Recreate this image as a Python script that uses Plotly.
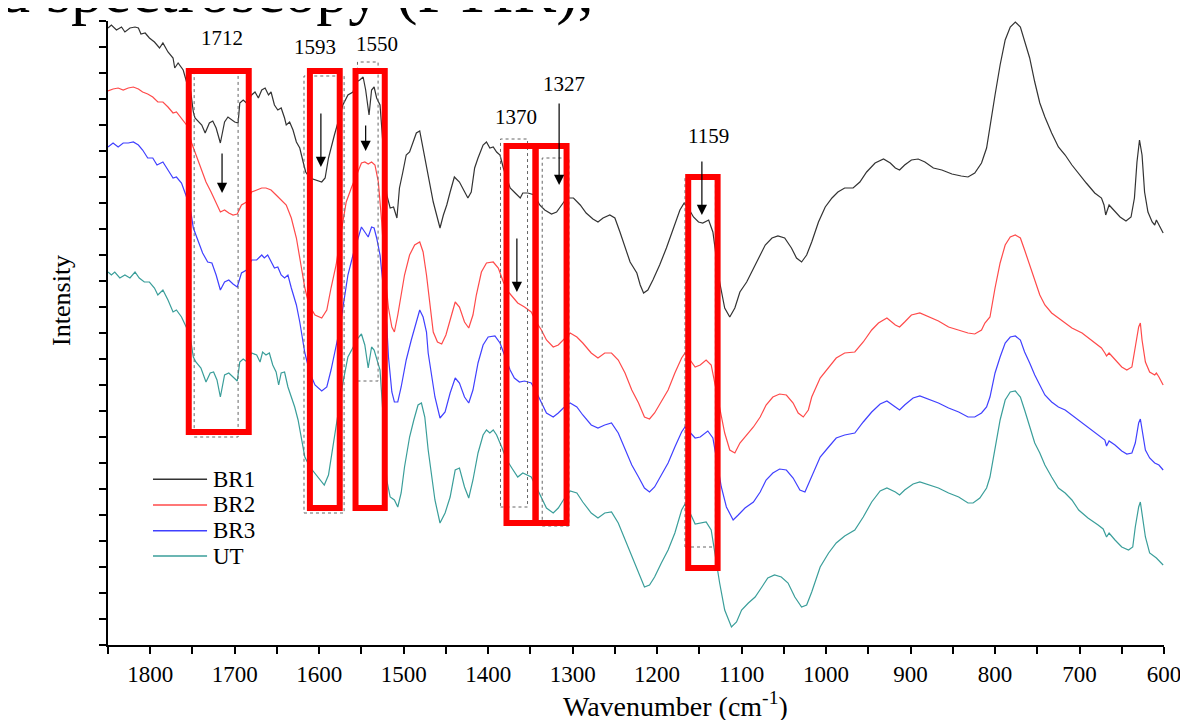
import plotly.graph_objects as go

# ---------------- data (wavenumber in cm-1, intensity in arbitrary units) ----------------
wn_br1 = [1850,1846,1840,1834,1830,1824,1818,1814,1811,1806,1801,1795,1789,1785,1779,1773,1771,1767,1761,1757,
          1752,1749,1747,1739,1735,1730,1726,1722,1717,1712,1708,1704,1700,1696,1694,1690,1686,1680,1676,1672,
          1668,1664,1660,1657,1653,1649,1645,1641,1639,1635,1631,1627,1623,1619,1616,1611,1605,1597,1593,1589,
          1582,1578,1572,1566,1560,1556,1552,1548,1545,1541,1538,1535,1532,1528,1524,1520,1516,1512,1508,1505,
          1501,1497,1493,1489,1485,1481,1477,1473,1469,1465,1461,1457,1453,1449,1445,1440,1434,1428,1424,1420,
          1416,1412,1406,1402,1398,1394,1390,1386,1382,1378,1374,1368,1362,1359,1353,1345,1339,1333,1325,1319,
          1313,1307,1299,1291,1284,1276,1270,1264,1256,1250,1244,1238,1232,1224,1220,1216,1211,1205,1197,1189,
          1181,1173,1168,1163,1157,1151,1146,1139,1134,1130,1126,1120,1114,1108,1102,1094,1086,1078,1072,1064,
          1057,1049,1041,1035,1029,1023,1017,1009,1001,993,986,978,968,960,952,942,932,924,918,913,
          907,899,891,883,873,863,851,840,832,824,816,810,806,800,794,788,782,776,770,765,
          759,753,747,741,733,725,717,709,701,692,682,674,671,669,665,660,652,645,639,635,
          632,629,626,623,619,614,611,609,606,601]
int_br1 = [617,620,615,618,613,617,618,617,611,612,607,603,597,602,593,587,577,582,575,563,
           553,533,527,520,512,522,524,517,502,523,528,525,523,522,542,545,542,550,553,547,
           555,557,550,553,540,535,537,527,520,523,515,503,497,483,473,467,465,463,467,487,
           510,523,540,550,553,563,565,568,555,530,555,558,547,540,497,450,437,438,427,457,
           473,490,493,503,512,514,497,477,460,443,430,417,430,440,453,468,463,453,447,453,
           477,487,500,503,497,498,493,490,477,467,457,452,447,452,452,450,440,435,431,433,
           440,447,447,440,432,426,423,427,430,427,413,397,383,372,360,352,355,365,380,397,
           417,435,442,437,428,423,422,425,413,390,363,337,328,337,353,363,377,390,400,407,
           409,407,397,387,383,390,403,423,438,447,453,457,457,463,473,482,486,482,477,475,
           480,485,486,483,477,475,471,469,468,472,482,497,520,550,580,605,618,623,618,605,
           587,563,542,528,512,498,490,480,471,462,452,447,440,430,440,435,428,424,428,447,
           483,505,490,453,433,423,420,425,420,412]

wn_br2 = [1850,1844,1838,1832,1826,1820,1814,1809,1803,1797,1791,1785,1779,1773,1769,1763,1757,1751,1746,1740,
          1734,1728,1722,1717,1712,1707,1702,1697,1692,1686,1680,1674,1668,1663,1657,1651,1645,1639,1633,1627,
          1621,1617,1612,1605,1597,1591,1586,1580,1574,1568,1562,1556,1550,1546,1542,1538,1534,1530,1526,1522,
          1518,1514,1511,1507,1499,1493,1487,1481,1477,1473,1469,1465,1460,1455,1450,1445,1439,1434,1428,1423,
          1418,1414,1408,1402,1394,1388,1382,1376,1370,1365,1357,1349,1343,1337,1331,1323,1317,1311,1303,1295,
          1288,1278,1270,1262,1254,1246,1238,1230,1222,1215,1209,1203,1195,1187,1179,1171,1167,1161,1155,1149,
          1142,1136,1132,1126,1120,1114,1108,1102,1094,1086,1078,1071,1063,1055,1047,1039,1033,1027,1021,1017,
          1007,997,988,978,966,956,946,938,928,918,913,907,899,889,879,867,855,843,832,824,
          816,812,806,800,794,788,782,776,770,765,759,753,747,741,733,725,717,709,697,686,
          674,670,668,665,658,650,644,638,634,630,628,626,622,617,611,609,606,601]
int_br2 = [554,556,557,555,557,558,556,553,551,548,543,543,538,532,533,527,520,502,490,477,
           463,453,442,433,435,432,430,431,440,443,453,455,457,457,455,450,445,440,427,407,
           377,357,340,330,327,335,357,380,413,443,457,470,482,483,481,483,480,463,423,370,
           337,318,313,330,370,390,400,403,393,370,340,313,303,301,310,325,343,338,323,317,
           330,350,373,382,383,377,363,353,347,342,338,333,323,315,305,298,300,305,312,308,
           302,292,287,292,292,285,272,255,242,228,226,232,243,255,272,287,292,285,278,280,
           285,280,262,235,212,195,192,202,210,218,228,240,248,251,250,242,232,228,235,248,
           267,277,287,292,293,303,315,322,327,320,318,323,330,332,328,324,318,315,312,311,
           315,322,328,357,382,400,408,410,407,395,380,363,350,340,332,327,322,317,312,305,
           297,292,289,292,285,278,275,278,298,318,322,305,283,273,270,272,268,260]

wn_br3 = [1850,1844,1838,1832,1826,1820,1814,1809,1803,1797,1792,1785,1779,1773,1769,1763,1757,1752,1749,1743,
          1738,1732,1727,1722,1717,1712,1707,1702,1697,1692,1686,1680,1674,1668,1665,1661,1657,1653,1649,1645,
          1641,1637,1633,1627,1623,1621,1617,1611,1605,1597,1591,1586,1580,1576,1572,1566,1560,1554,1550,1546,
          1542,1538,1535,1532,1528,1524,1520,1518,1514,1511,1507,1503,1497,1491,1485,1481,1477,1473,1471,1467,
          1463,1457,1451,1445,1439,1434,1428,1423,1418,1412,1406,1400,1392,1386,1380,1374,1369,1363,1357,1349,
          1343,1337,1331,1323,1317,1311,1303,1295,1288,1278,1270,1262,1254,1246,1238,1230,1222,1215,1209,1203,
          1195,1187,1179,1171,1167,1161,1155,1149,1140,1134,1130,1124,1118,1110,1104,1096,1086,1078,1071,1063,
          1055,1047,1039,1031,1025,1017,1007,997,988,978,966,956,946,936,928,918,913,907,897,889,
          879,867,855,843,832,824,816,810,806,800,794,788,782,776,770,765,759,753,747,741,
          733,725,717,709,697,686,676,670,668,665,658,650,644,638,634,630,628,626,622,617,
          611,606,601]
int_br3 = [498,502,498,502,502,503,500,495,487,487,480,483,475,467,468,462,448,433,417,403,
           392,383,382,370,355,363,365,361,358,372,375,385,385,390,387,390,383,377,378,370,
           367,370,357,340,323,312,292,272,260,254,258,275,298,315,337,370,390,408,418,413,
           408,418,417,407,390,357,320,288,253,243,243,258,285,305,322,335,328,313,292,268,
           248,227,233,252,267,262,248,242,255,282,300,308,309,302,288,275,267,263,264,262,
           253,242,232,228,232,237,242,238,230,220,217,220,222,212,195,180,168,157,153,158,
           170,182,198,213,218,212,207,208,214,207,188,158,138,125,130,137,143,153,165,172,
           176,175,167,155,153,168,188,198,207,210,212,223,233,241,244,238,235,240,247,249,
           246,242,237,233,228,228,232,238,248,272,288,302,308,309,305,293,282,270,260,250,
           243,238,235,230,222,215,209,205,199,204,200,194,191,192,202,222,226,215,195,187,
           182,180,175]

wn_ut = [1850,1846,1842,1836,1830,1824,1818,1813,1807,1801,1795,1791,1785,1779,1773,1769,1763,1757,1753,1749,
         1746,1740,1734,1729,1725,1721,1717,1712,1707,1702,1697,1694,1690,1685,1680,1674,1670,1667,1663,1659,
         1655,1651,1648,1645,1641,1637,1633,1629,1625,1621,1617,1611,1605,1599,1594,1589,1584,1578,1572,1566,
         1560,1554,1550,1546,1542,1538,1535,1532,1528,1524,1520,1516,1511,1507,1503,1499,1493,1488,1483,1479,
         1475,1471,1467,1463,1457,1451,1445,1439,1434,1428,1423,1418,1412,1406,1402,1398,1394,1390,1384,1378,
         1372,1365,1359,1349,1343,1337,1331,1323,1317,1311,1303,1295,1288,1278,1270,1262,1254,1246,1238,1230,
         1222,1215,1209,1203,1195,1187,1179,1171,1167,1161,1155,1149,1142,1136,1132,1126,1120,1112,1106,1100,
         1092,1084,1076,1069,1061,1053,1045,1037,1029,1023,1017,1007,997,988,978,966,956,946,936,928,
         918,913,907,897,889,879,867,855,843,832,826,818,810,806,800,794,788,782,776,770,
         765,759,753,747,741,733,725,717,709,701,690,678,672,668,665,658,650,642,637,634,
         630,628,626,622,617,609,601]
int_ut = [373,370,373,367,370,367,373,367,363,363,357,350,355,345,333,335,328,318,310,288,
          283,277,263,272,273,265,248,270,272,268,264,283,286,283,292,290,283,293,290,292,
          280,273,260,272,273,258,248,238,225,208,188,178,172,166,160,170,198,232,262,288,
          298,307,311,300,277,298,295,287,275,225,165,148,145,138,152,178,208,225,240,242,
          228,195,172,145,122,132,148,175,177,158,147,165,192,210,215,212,215,210,198,185,
          177,168,172,168,158,148,137,132,137,145,154,152,143,132,127,132,133,122,105,88,
          72,58,60,68,82,95,112,135,141,132,121,122,123,115,92,62,35,18,23,35,
          42,48,58,67,70,68,62,48,38,40,53,78,92,102,109,115,128,143,154,157,
          153,150,155,161,163,160,157,152,148,142,142,147,157,168,198,225,245,253,254,248,
          235,218,202,192,180,168,157,152,145,135,127,120,116,108,112,105,98,95,98,118,
          138,143,132,108,92,87,80]

series_names = ["BR1", "BR2", "BR3", "UT"]
series_colors = ["#333333", "#ff4a4a", "#4040ff", "#3a9e9a"]

# x-axis tick labels
x_ticks = [1800, 1700, 1600, 1500, 1400, 1300, 1200, 1100, 1000, 900, 800, 700, 600]
x_minor = [1850, 1750, 1650, 1550, 1450, 1350, 1250, 1150, 1050, 950, 850, 750, 650]

# marked bands: label, label position, arrow (tail -> tip)
band_labels = ["1712", "1593", "1550", "1370", "1327", "1159"]
label_wn = [1715, 1605, 1532, 1367, 1310, 1139]
label_int = [607, 598, 601, 528, 561, 509]
arrow_wn = [1715, 1598, 1545, 1366, 1316, 1147]
arrow_tail = [493, 533, 521, 408, 543, 485]
arrow_tip = [452, 478, 494, 353, 460, 430]

# red highlight boxes (wn left, wn right, int bottom, int top)
red_x0 = [1754.4, 1611, 1557, 1378.3, 1343.9, 1163.2]
red_x1 = [1683.4, 1575.7, 1522.4, 1343.9, 1307.2, 1128.4]
red_y0 = [213, 137, 137, 122, 122, 77]
red_y1 = [574, 574, 574, 499, 499, 468]

# dotted grey boxes
dot_x0 = [1748, 1618, 1554.7, 1385.4, 1336, 1167]
dot_x1 = [1696, 1570.5, 1530.3, 1353.4, 1304.5, 1131]
dot_y0 = [208, 132, 264, 138, 119, 98]
dot_y1 = [572, 569, 583, 506, 487, 468]

# ---------------- figure ----------------
FONT = "Liberation Serif"
fig = go.Figure()
all_wn = [wn_br1, wn_br2, wn_br3, wn_ut]
all_int = [int_br1, int_br2, int_br3, int_ut]
for name, col, xs, ys in zip(series_names, series_colors, all_wn, all_int):
    fig.add_trace(go.Scatter(x=xs, y=ys, mode="lines", name=name, showlegend=False,
                             line=dict(color=col, width=1.2)))

shapes = []
for x0, x1, y0, y1 in zip(dot_x0, dot_x1, dot_y0, dot_y1):
    shapes.append(dict(type="rect", xref="x", yref="y", x0=x0, x1=x1, y0=y0, y1=y1,
                       line=dict(color="#666666", width=1, dash="dot")))
for x0, x1, y0, y1 in zip(red_x0, red_x1, red_y0, red_y1):
    shapes.append(dict(type="rect", xref="x", yref="y", x0=x0, x1=x1, y0=y0, y1=y1,
                       line=dict(color="#ff0000", width=6)))

annotations = []
for t, x, y in zip(band_labels, label_wn, label_int):
    annotations.append(dict(text=t, x=x, y=y, xref="x", yref="y", showarrow=False,
                            xanchor="center", yanchor="middle",
                            font=dict(family=FONT, size=21, color="black")))
for x, y0, y1 in zip(arrow_wn, arrow_tail, arrow_tip):
    annotations.append(dict(text="", x=x, y=y1, ax=x, ay=y0, xref="x", yref="y",
                            axref="x", ayref="y", showarrow=True, arrowhead=2,
                            arrowsize=1.7, arrowwidth=1.2, arrowcolor="black"))

# legend drawn in the style of the original (long line samples)
leg_y = [0.2655, 0.2244, 0.1832, 0.1426]
for name, col, yy in zip(series_names, series_colors, leg_y):
    shapes.append(dict(type="line", xref="paper", yref="paper", x0=0.0426, x1=0.0938,
                       y0=yy, y1=yy, line=dict(color=col, width=1.5)))
    annotations.append(dict(text=name, xref="paper", yref="paper", x=0.0975, y=yy,
                            xanchor="left", yanchor="middle", showarrow=False,
                            font=dict(family=FONT, size=23, color="black")))

annotations.append(dict(text="Wavenumber (cm<sup>-1</sup>)", xref="paper", yref="paper",
                        x=0.537, y=-0.096, xanchor="center", yanchor="middle", showarrow=False,
                        font=dict(family=FONT, size=28, color="black")))
annotations.append(dict(text="Intensity", xref="paper", yref="paper", textangle=-90,
                        x=-0.0436, y=0.553, xanchor="center", yanchor="middle", showarrow=False,
                        font=dict(family=FONT, size=26, color="black")))
annotations.append(dict(text="d spectroscopy (FTIR),", xref="paper", yref="paper",
                        x=-0.1061, y=0.9888, xanchor="left", yanchor="bottom", showarrow=False,
                        font=dict(family=FONT, size=64, color="black")))

fig.update_layout(
    width=1188, height=720,
    margin=dict(l=100, r=32, t=13, b=83),
    paper_bgcolor="white", plot_bgcolor="white",
    font=dict(family=FONT, color="black"),
    showlegend=False,
    shapes=shapes, annotations=annotations,
)
fig.update_xaxes(range=[1850, 600], tickmode="array", tickvals=x_ticks,
                 ticktext=[str(v) for v in x_ticks],
                 showline=True, linecolor="black", linewidth=2, mirror=False,
                 ticks="outside", ticklen=7, tickwidth=2, tickcolor="black",
                 minor=dict(tickmode="array", tickvals=x_minor,
                            ticks="outside", ticklen=7, tickwidth=2, tickcolor="black"),
                 tickfont=dict(family=FONT, size=23, color="black"),
                 showgrid=False, zeroline=False, automargin=False)
fig.update_yaxes(range=[0, 624], tickmode="linear", tick0=0, dtick=26, showticklabels=False,
                 showline=True, linecolor="black", linewidth=2,
                 ticks="outside", ticklen=7, tickwidth=2, tickcolor="black",
                 showgrid=False, zeroline=False, automargin=False)

fig.write_html("out.html")
